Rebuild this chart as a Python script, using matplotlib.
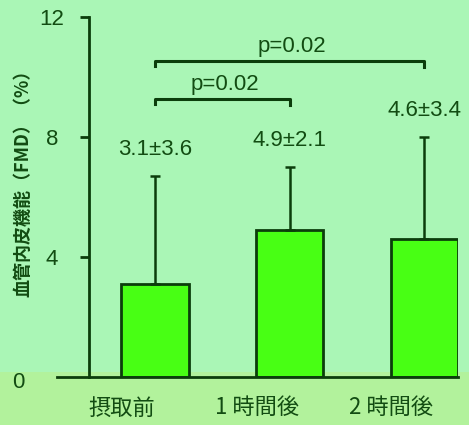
import matplotlib
matplotlib.use('Agg')
import matplotlib.pyplot as plt
from matplotlib.patches import Rectangle

groups = ['摂取前', '1 時間後', '2 時間後']
means = [3.1, 4.9, 4.6]
sds = [3.6, 2.1, 3.4]
value_labels = ['3.1±3.6', '4.9±2.1', '4.6±3.4']
yticks = [4, 8, 12]
pairs = [(0, 1, 'p=0.02'), (0, 2, 'p=0.02')]

bg = '#aaf6b6'
strip = '#b2f29c'
bar_col = '#48ff14'
dark = '#0b3d0b'
txt = '#124c12'
num_font = ['Liberation Sans', 'DejaVu Sans']
cjk_font = ['Noto Sans CJK JP', 'DejaVu Sans']

fig = plt.figure(figsize=(4.69, 4.25), dpi=100, facecolor=bg)
fig.patches.append(Rectangle((0, 0), 1, 53 / 425, transform=fig.transFigure,
                             facecolor=strip, edgecolor='none', zorder=-10))

ax = fig.add_axes([57 / 469, 48 / 425, 401 / 469, 360 / 425])
ax.patch.set_visible(False)

x = range(len(groups))
ax.bar(x, means, width=0.5, color=bar_col, edgecolor=dark, linewidth=2, zorder=2)
ax.errorbar(x, means, yerr=[[0] * len(sds), sds], fmt='none', ecolor=dark,
            elinewidth=1.8, capsize=3.5, capthick=1.8, zorder=3)

for i, (m, s, lab) in enumerate(zip(means, sds, value_labels)):
    ax.text(i, m + s + 0.7, lab, ha='center', va='baseline', fontsize=16,
            color=txt, family=num_font)

# significance brackets
levels = [9.27, 10.53]
for (a, b, lab), lev in zip(pairs, levels):
    ax.plot([a, a, b, b], [lev - 0.17, lev, lev, lev - 0.2], color=dark,
            linewidth=2.2, clip_on=False, zorder=3)
    ax.text((a + b) / 2 + 0.02, lev + 0.3, lab, ha='center', va='baseline',
            fontsize=16, color=txt, family=num_font)

ax.set_xlim(-0.727, 2.25)
ax.set_ylim(0, 12)

for sp in ['top', 'right']:
    ax.spines[sp].set_visible(False)
ax.spines['left'].set_position(('data', -0.49))
for sp in ['left', 'bottom']:
    ax.spines[sp].set_color(dark)
    ax.spines[sp].set_linewidth(2)

ax.set_yticks(yticks)
ax.set_yticklabels([str(t) for t in yticks], family=num_font, fontsize=16,
                   color=txt, ha='center')
ax.tick_params(axis='y', length=6.5, width=2, color=dark, pad=20)

ax.set_xticks([i - 0.245 for i in x])
ax.set_xticklabels(groups, family=cjk_font, fontsize=16, color=txt)
ax.tick_params(axis='x', length=0, pad=14)

fig.text(18 / 469, 1 - 382 / 425, '0', ha='center', va='center', fontsize=16,
         color=txt, family=num_font)
fig.text(23 / 469, 1 - 179 / 425, '血管内皮機能（FMD）（%）', rotation=90,
         ha='center', va='center', fontsize=13, fontweight='bold', color=txt,
         family=cjk_font)

fig.savefig('out.png', dpi=100, facecolor=bg)
